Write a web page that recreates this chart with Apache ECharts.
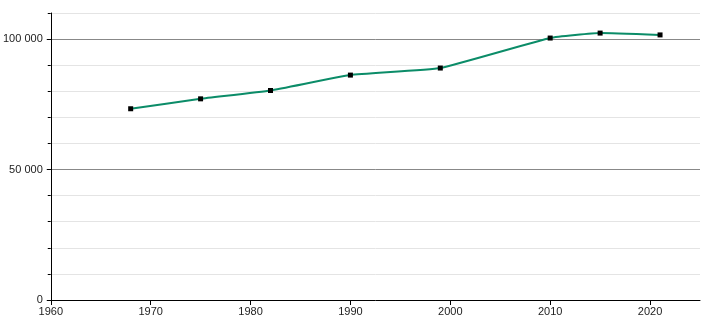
<!DOCTYPE html>
<html>
<head>
<meta charset="utf-8">
<script src="https://cdn.jsdelivr.net/npm/echarts@6/dist/echarts.min.js"></script>
<style>html,body{margin:0;padding:0;background:#fff}#c{width:710px;height:320px}</style>
</head>
<body>
<div id="c"></div>
<script>
const years = [1968, 1975, 1982, 1990, 1999, 2010, 2015, 2021];
const population = [73300, 77100, 80300, 86200, 88900, 100400, 102300, 101600];
const xTicks = [1960, 1970, 1980, 1990, 2000, 2010, 2020];
const yMajorTicks = [0, 50000, 100000];

const fmt = v => String(v).replace(/\B(?=(\d{3})+(?!\d))/g, ' ');
const chart = echarts.init(document.getElementById('c'), null, {renderer: 'canvas'});
chart.setOption({
  animation: false,
  grid: {left: 49, right: 10, top: 13, bottom: 20, containLabel: false},
  xAxis: {
    type: 'value', min: 1960, max: 2025, interval: 10,
    axisLine: {lineStyle: {color: '#000', width: 1}},
    axisTick: {show: true, length: 5, lineStyle: {color: '#000'}, customValues: xTicks},
    axisLabel: {color: '#222', fontSize: 11, fontFamily: 'Liberation Sans, Arial', margin: 6,
      customValues: xTicks, formatter: v => String(v)},
    splitLine: {show: false}
  },
  yAxis: [{
    type: 'value', min: 0, max: 110000, interval: 10000,
    axisLine: {show: true, lineStyle: {color: '#000', width: 1}},
    axisTick: {show: true, length: 3, lineStyle: {color: '#000'}},
    axisLabel: {show: false},
    splitLine: {show: true, lineStyle: {color: '#e4e4e4', width: 1}}
  }, {
    type: 'value', min: 0, max: 110000, interval: 50000, position: 'left',
    axisLine: {show: false},
    axisTick: {show: true, length: 4, lineStyle: {color: '#000'}, customValues: yMajorTicks},
    axisLabel: {color: '#222', fontSize: 11, fontFamily: 'Liberation Sans, Arial', margin: 8,
      customValues: yMajorTicks, formatter: v => fmt(v)},
    splitLine: {show: true, showMinLine: false, lineStyle: {color: '#888', width: 1}}
  }],
  series: [{
    type: 'line',
    yAxisIndex: 0,
    data: years.map((y, i) => [y, population[i]]),
    smooth: 0.12,
    lineStyle: {color: '#0b8c68', width: 2},
    itemStyle: {color: '#000'},
    symbol: 'rect', symbolSize: 5,
    z: 5
  }]
});
</script>
</body>
</html>
